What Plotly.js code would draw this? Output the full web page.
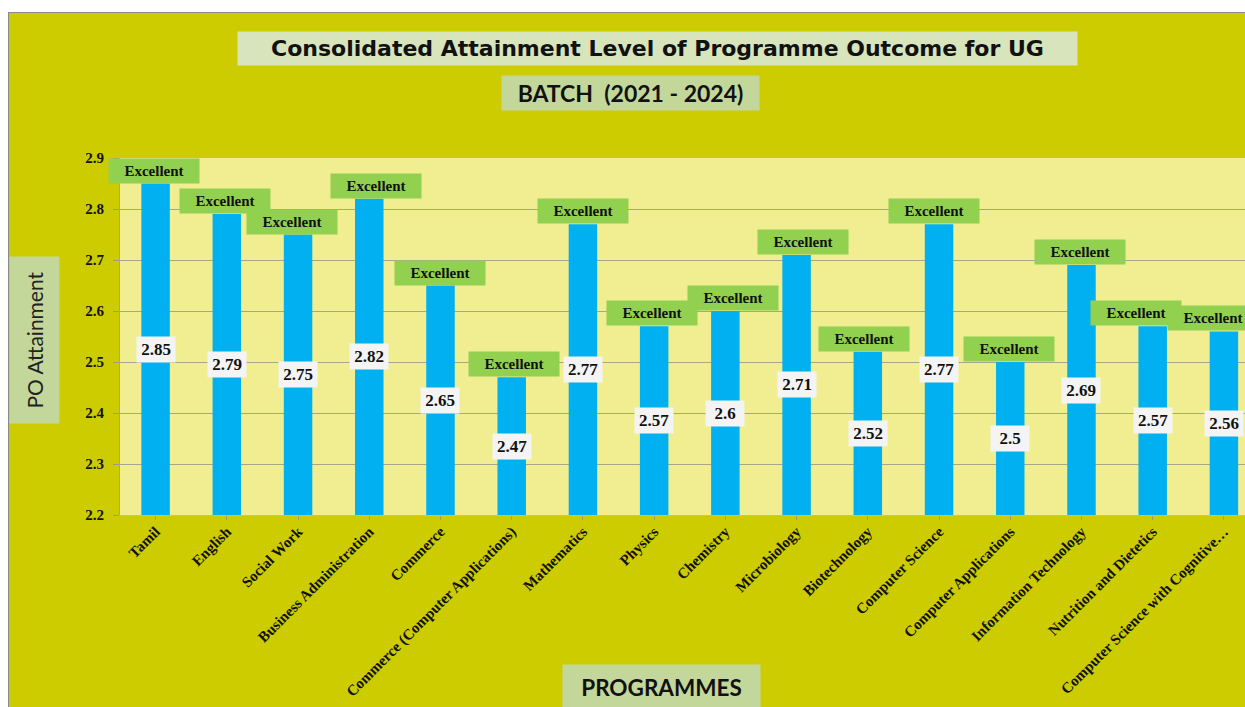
<!DOCTYPE html>
<html>
<head>
<meta charset="utf-8">
<script src="https://cdn.plot.ly/plotly-3.0.1.min.js"></script>
<style>
html,body{margin:0;padding:0;background:#ffffff;overflow:hidden;width:1245px;height:707px;}
#chart{position:absolute;left:8px;top:12px;width:1237px;height:695px;border-left:1px solid #8a8a8a;border-top:1px solid #8a8a8a;box-sizing:border-box;}
</style>
</head>
<body>
<div id="chart"></div>
<script>
var programmes = ["Tamil","English","Social Work","Business Administration","Commerce","Commerce (Computer Applications)","Mathematics","Physics","Chemistry","Microbiology","Biotechnology","Computer Science","Computer Applications","Information Technology","Nutrition and Dietetics","Computer Science with Cognitive\u2026"];
var attainment = [2.85,2.79,2.75,2.82,2.65,2.47,2.77,2.57,2.6,2.71,2.52,2.77,2.5,2.69,2.57,2.56];
var levels = ["Excellent","Excellent","Excellent","Excellent","Excellent","Excellent","Excellent","Excellent","Excellent","Excellent","Excellent","Excellent","Excellent","Excellent","Excellent","Excellent"];
var yTicks = [2.2,2.3,2.4,2.5,2.6,2.7,2.8,2.9];
var yTickText = ["2.2","2.3","2.4","2.5","2.6","2.7","2.8","2.9"];
var chartTitle = "Consolidated Attainment Level of Programme Outcome for UG";
var batchTitle = "BATCH  (2021 - 2024)";
var yTitle = "PO Attainment";
var xTitle = "PROGRAMMES";
var yMin = 2.2;

// label-box horizontal nudges (style only, pixels)
var levelBoxShift = [-2,-2,-6,7,0,2,0,-2,8,6,-4,-5,-1,-1,-17,-11];

var serif = "Liberation Serif, Times New Roman, serif";

var trace = {
  type: "bar",
  x: programmes,
  y: attainment,
  base: 0,
  marker: {color: "#00B0F0"},
  hoverinfo: "x+y"
};

var annotations = [];
programmes.forEach(function(p, i){
  annotations.push({
    x: p, y: (yMin + attainment[i]) / 2, xref: "x", yref: "y",
    text: String(attainment[i]), showarrow: false,
    font: {family: serif, size: 17, color: "#111111", weight: "bold"},
    bgcolor: "#F4F4F4", width: 36, height: 23
  });
});
programmes.forEach(function(p, i){
  annotations.push({
    x: p, y: attainment[i], xref: "x", yref: "y", yanchor: "bottom",
    text: levels[i], showarrow: false,
    xshift: levelBoxShift[i],
    font: {family: serif, size: 15, color: "#111111", weight: "bold"},
    bgcolor: "#92D050", width: 88, height: 22
  });
});

// titles as boxed annotations (paper coords relative to plot area)
annotations.push({
  xref: "paper", yref: "paper", x: 0.477, y: 1.308, xanchor: "center", yanchor: "middle",
  text: chartTitle, showarrow: false,
  font: {family: "DejaVu Sans, Verdana, sans-serif", size: 22, color: "#111111", weight: "bold"},
  bgcolor: "#D8E4BC", width: 837, height: 31
});
annotations.push({
  xref: "paper", yref: "paper", x: 0.453, y: 1.182, xanchor: "center", yanchor: "middle",
  text: batchTitle, showarrow: false,
  font: {family: "Lato, Carlito, sans-serif", size: 23, color: "#111111", weight: "bold"},
  bgcolor: "#C4D79B", width: 255, height: 32
});
annotations.push({
  xref: "paper", yref: "paper", x: -0.0764, y: 0.49, xanchor: "center", yanchor: "middle",
  text: yTitle, showarrow: false, textangle: -90,
  font: {family: "Lato, Carlito, sans-serif", size: 21, color: "#222222"},
  bgcolor: "#C4D79B", width: 164, height: 47
});
annotations.push({
  xref: "paper", yref: "paper", x: 0.4805, y: -0.482, xanchor: "center", yanchor: "middle",
  text: xTitle, showarrow: false,
  font: {family: "Lato, Carlito, sans-serif", size: 22.5, color: "#111111", weight: "bold"},
  bgcolor: "#C4D79B", width: 195, height: 42
});

var layout = {
  width: 1237, height: 695,
  margin: {l: 111, r: 0, t: 145, b: 193},
  paper_bgcolor: "#CCCC00",
  plot_bgcolor: "#F0EE90",
  bargap: 0.6,
  showlegend: false,
  xaxis: {
    type: "category",
    range: [-0.5, 15.31],
    tickangle: -45,
    tickfont: {family: serif, size: 15, color: "#111111", weight: "bold"},
    ticks: "outside", ticklen: 4, tickcolor: "#999999",
    ticklabelstandoff: -3,
    showline: true, linecolor: "#bbbbbb",
    showgrid: false, automargin: false
  },
  yaxis: {
    range: [2.2, 2.9],
    tickvals: yTicks, ticktext: yTickText,
    tickfont: {family: serif, size: 15, color: "#111111", weight: "bold"},
    ticks: "outside", ticklen: 6, tickcolor: "#999999",
    ticklabelstandoff: 6,
    showgrid: true, gridcolor: "#A8A68A", gridwidth: 1,
    showline: true, linecolor: "#A8A68A",
    zeroline: false, automargin: false
  },
  annotations: annotations
};

Plotly.newPlot("chart", [trace], layout, {displayModeBar: false, staticPlot: true});
</script>
</body>
</html>
